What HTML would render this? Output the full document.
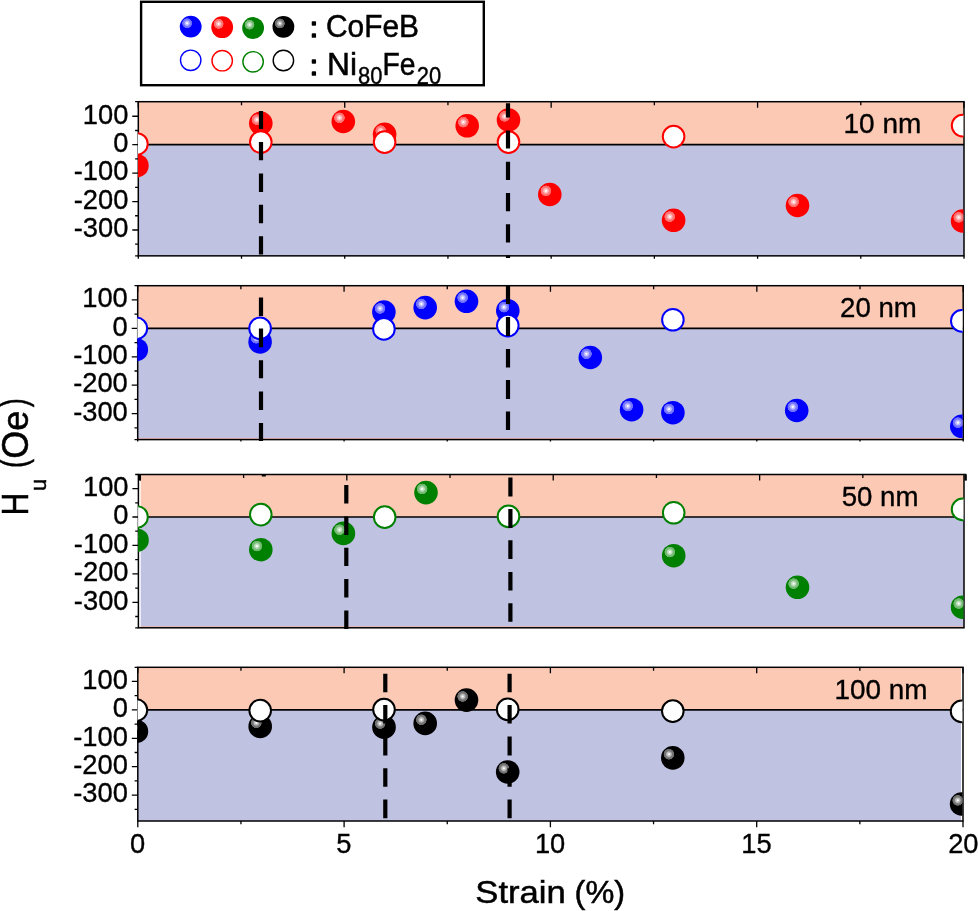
<!DOCTYPE html>
<html lang="en"><head><meta charset="utf-8"><title>Hu vs Strain</title>
<style>html,body{margin:0;padding:0;background:#fff}svg{display:block}text{font-family:'Liberation Sans', 'DejaVu Sans', sans-serif;fill:#000}</style>
</head><body>
<svg width="978" height="911" viewBox="0 0 978 911">
<defs>
<radialGradient id="gr" cx="0.336" cy="0.345" r="0.5" fx="0.336" fy="0.345" gradientUnits="objectBoundingBox">
<stop offset="0.00" stop-color="#FFFFFF"/>
<stop offset="0.05" stop-color="#FFFFFF"/>
<stop offset="0.11" stop-color="#FFC7C7"/>
<stop offset="0.21" stop-color="#FFB2B2"/>
<stop offset="0.25" stop-color="#FF8C8C"/>
<stop offset="0.30" stop-color="#FF7878"/>
<stop offset="0.43" stop-color="#FF6B6B"/>
<stop offset="0.47" stop-color="#FF0000"/>
<stop offset="1.00" stop-color="#FF0000"/>
</radialGradient>
<radialGradient id="gb" cx="0.336" cy="0.345" r="0.5" fx="0.336" fy="0.345" gradientUnits="objectBoundingBox">
<stop offset="0.00" stop-color="#FFFFFF"/>
<stop offset="0.05" stop-color="#FFFFFF"/>
<stop offset="0.11" stop-color="#C7C7FF"/>
<stop offset="0.21" stop-color="#B2B2FF"/>
<stop offset="0.25" stop-color="#8C8CFF"/>
<stop offset="0.30" stop-color="#7878FF"/>
<stop offset="0.43" stop-color="#6B6BFF"/>
<stop offset="0.47" stop-color="#0000FF"/>
<stop offset="1.00" stop-color="#0000FF"/>
</radialGradient>
<radialGradient id="gg" cx="0.336" cy="0.345" r="0.5" fx="0.336" fy="0.345" gradientUnits="objectBoundingBox">
<stop offset="0.00" stop-color="#FFFFFF"/>
<stop offset="0.05" stop-color="#FFFFFF"/>
<stop offset="0.11" stop-color="#C7E3C7"/>
<stop offset="0.21" stop-color="#B2D9B2"/>
<stop offset="0.25" stop-color="#8CC68C"/>
<stop offset="0.30" stop-color="#78BC78"/>
<stop offset="0.43" stop-color="#6BB56B"/>
<stop offset="0.47" stop-color="#008000"/>
<stop offset="1.00" stop-color="#008000"/>
</radialGradient>
<radialGradient id="gk" cx="0.336" cy="0.345" r="0.5" fx="0.336" fy="0.345" gradientUnits="objectBoundingBox">
<stop offset="0.00" stop-color="#FFFFFF"/>
<stop offset="0.05" stop-color="#FFFFFF"/>
<stop offset="0.11" stop-color="#C7C7C7"/>
<stop offset="0.21" stop-color="#B2B2B2"/>
<stop offset="0.25" stop-color="#8C8C8C"/>
<stop offset="0.30" stop-color="#787878"/>
<stop offset="0.43" stop-color="#6B6B6B"/>
<stop offset="0.47" stop-color="#000000"/>
<stop offset="1.00" stop-color="#000000"/>
</radialGradient>
<clipPath id="c0"><rect x="138.0" y="81.7" width="825.4" height="194.1"/></clipPath>
<clipPath id="c1"><rect x="137.4" y="265.7" width="825.2" height="193.9"/></clipPath>
<clipPath id="c2"><rect x="138.1" y="454.5" width="825.4" height="193.3"/></clipPath>
<clipPath id="c3"><rect x="137.5" y="647.3" width="824.9" height="193.7"/></clipPath>
</defs>
<rect width="978" height="911" fill="#fff"/>
<g>
<rect x="138.3" y="101.70" width="825.7" height="43.00" fill="#FBC9B4"/>
<rect x="138.3" y="144.70" width="825.7" height="111.15" fill="#C0C2E2"/>
<line x1="138.3" y1="144.70" x2="964.0" y2="144.70" stroke="#000" stroke-width="1.7"/>
<rect x="138.3" y="101.70" width="825.7" height="154.15" fill="none" stroke="#000" stroke-width="1.5"/>
<path d="M138.3 116.27H132.3M138.3 144.70H132.3M138.3 173.13H132.3M138.3 201.56H132.3M138.3 229.99H132.3M138.3 101.70H135.1M138.3 130.48H135.1M138.3 158.91H135.1M138.3 187.34H135.1M138.3 215.77H135.1M138.3 244.20H135.1M138.3 255.85H135.1M138.30 101.7V107.7M138.30 255.8V258.8M241.51 101.7V105.2M241.51 255.8V258.8M344.73 101.7V107.7M344.73 255.8V258.8M447.94 101.7V105.2M447.94 255.8V258.8M551.15 101.7V107.7M551.15 255.8V258.8M654.36 101.7V105.2M654.36 255.8V258.8M757.58 101.7V107.7M757.58 255.8V258.8M860.79 101.7V105.2M860.79 255.8V258.8M964.00 101.7V107.7M964.00 255.8V258.8" stroke="#000" stroke-width="1.3" fill="none"/>
<text x="128.4" y="123.5" font-size="27.3" text-anchor="end" stroke="#000" stroke-width="0.35">100</text>
<text x="128.4" y="151.9" font-size="27.3" text-anchor="end" stroke="#000" stroke-width="0.35">0</text>
<text x="128.4" y="180.3" font-size="27.3" text-anchor="end" stroke="#000" stroke-width="0.35">-100</text>
<text x="128.4" y="208.8" font-size="27.3" text-anchor="end" stroke="#000" stroke-width="0.35">-200</text>
<text x="128.4" y="237.2" font-size="27.3" text-anchor="end" stroke="#000" stroke-width="0.35">-300</text>
<g clip-path="url(#c0)">
<circle cx="136.9" cy="165.7" r="11.8" fill="url(#gr)"/>
<circle cx="260.8" cy="123.3" r="11.8" fill="url(#gr)"/>
<circle cx="343.3" cy="121.5" r="11.8" fill="url(#gr)"/>
<circle cx="384.6" cy="134.3" r="11.8" fill="url(#gr)"/>
<circle cx="467.2" cy="125.8" r="11.8" fill="url(#gr)"/>
<circle cx="508.5" cy="120.0" r="11.8" fill="url(#gr)"/>
<circle cx="549.8" cy="194.5" r="11.8" fill="url(#gr)"/>
<circle cx="673.6" cy="220.3" r="11.8" fill="url(#gr)"/>
<circle cx="797.5" cy="205.5" r="11.8" fill="url(#gr)"/>
<circle cx="962.6" cy="221.0" r="11.8" fill="url(#gr)"/>
<circle cx="136.9" cy="143.9" r="10.8" fill="#fff" stroke="#FF0000" stroke-width="2"/>
<circle cx="260.8" cy="142.1" r="10.8" fill="#fff" stroke="#FF0000" stroke-width="2"/>
<circle cx="384.6" cy="142.1" r="10.8" fill="#fff" stroke="#FF0000" stroke-width="2"/>
<circle cx="508.5" cy="142.1" r="10.8" fill="#fff" stroke="#FF0000" stroke-width="2"/>
<circle cx="673.6" cy="136.6" r="10.8" fill="#fff" stroke="#FF0000" stroke-width="2"/>
<circle cx="962.6" cy="125.6" r="10.8" fill="#fff" stroke="#FF0000" stroke-width="2"/>
</g>
<path d="M261.0 110.9V129.1M261.0 142.0V160.3M261.0 173.4V191.9M261.0 204.7V223.3M261.0 236.2V254.5M508.0 103.3V117.4M508.0 130.4V148.5M508.0 161.7V179.9M508.0 193.0V211.2M508.0 224.3V242.6M508.0 255.6V258.0" stroke="#000" stroke-width="4.2" fill="none"/>
<text x="843.5" y="132.5" font-size="27.3" textLength="77.8" lengthAdjust="spacingAndGlyphs" stroke="#000" stroke-width="0.35">10 nm</text>
</g>
<g>
<rect x="137.7" y="285.70" width="825.5" height="42.65" fill="#FBC9B4"/>
<rect x="137.7" y="328.35" width="825.5" height="111.25" fill="#C0C2E2"/>
<rect x="137.7" y="437.90" width="825.5" height="1" fill="#E8B4B0"/>
<line x1="137.7" y1="328.35" x2="963.2" y2="328.35" stroke="#000" stroke-width="1.7"/>
<rect x="137.7" y="285.70" width="825.5" height="153.90" fill="none" stroke="#000" stroke-width="1.5"/>
<path d="M137.7 299.92H131.7M137.7 328.35H131.7M137.7 356.78H131.7M137.7 385.21H131.7M137.7 413.64H131.7M137.7 285.70H134.5M137.7 314.14H134.5M137.7 342.56H134.5M137.7 371.00H134.5M137.7 399.43H134.5M137.7 427.86H134.5M137.7 439.60H134.5M137.70 285.7V291.7M137.70 439.6V441.5M240.89 285.7V289.2M240.89 439.6V441.5M344.07 285.7V291.7M344.07 439.6V441.5M447.26 285.7V289.2M447.26 439.6V441.5M550.45 285.7V291.7M550.45 439.6V441.5M653.64 285.7V289.2M653.64 439.6V441.5M756.83 285.7V291.7M756.83 439.6V441.5M860.01 285.7V289.2M860.01 439.6V441.5M963.20 285.7V291.7M963.20 439.6V441.5" stroke="#000" stroke-width="1.3" fill="none"/>
<text x="127.8" y="307.1" font-size="27.3" text-anchor="end" stroke="#000" stroke-width="0.35">100</text>
<text x="127.8" y="335.6" font-size="27.3" text-anchor="end" stroke="#000" stroke-width="0.35">0</text>
<text x="127.8" y="364.0" font-size="27.3" text-anchor="end" stroke="#000" stroke-width="0.35">-100</text>
<text x="127.8" y="392.4" font-size="27.3" text-anchor="end" stroke="#000" stroke-width="0.35">-200</text>
<text x="127.8" y="420.8" font-size="27.3" text-anchor="end" stroke="#000" stroke-width="0.35">-300</text>
<g clip-path="url(#c1)">
<circle cx="136.3" cy="349.7" r="11.8" fill="url(#gb)"/>
<circle cx="260.1" cy="341.9" r="11.8" fill="url(#gb)"/>
<circle cx="383.9" cy="312.1" r="11.8" fill="url(#gb)"/>
<circle cx="425.2" cy="307.6" r="11.8" fill="url(#gb)"/>
<circle cx="466.5" cy="301.3" r="11.8" fill="url(#gb)"/>
<circle cx="507.8" cy="310.8" r="11.8" fill="url(#gb)"/>
<circle cx="590.3" cy="357.5" r="11.8" fill="url(#gb)"/>
<circle cx="631.6" cy="409.7" r="11.8" fill="url(#gb)"/>
<circle cx="672.9" cy="412.7" r="11.8" fill="url(#gb)"/>
<circle cx="796.7" cy="410.5" r="11.8" fill="url(#gb)"/>
<circle cx="961.8" cy="426.3" r="11.8" fill="url(#gb)"/>
<circle cx="136.3" cy="328.4" r="10.8" fill="#fff" stroke="#0000FF" stroke-width="2"/>
<circle cx="260.1" cy="328.4" r="10.8" fill="#fff" stroke="#0000FF" stroke-width="2"/>
<circle cx="383.9" cy="328.9" r="10.8" fill="#fff" stroke="#0000FF" stroke-width="2"/>
<circle cx="507.8" cy="325.6" r="10.8" fill="#fff" stroke="#0000FF" stroke-width="2"/>
<circle cx="672.9" cy="319.8" r="10.8" fill="#fff" stroke="#0000FF" stroke-width="2"/>
<circle cx="961.8" cy="320.9" r="10.8" fill="#fff" stroke="#0000FF" stroke-width="2"/>
</g>
<path d="M261.0 297.6V315.9M261.0 328.4V347.3M261.0 360.2V378.2M261.0 391.5V409.9M261.0 422.9V440.9M508.0 285.8V303.9M508.0 317.0V335.9M508.0 349.0V367.4M508.0 380.0V398.9M508.0 411.6V429.9" stroke="#000" stroke-width="4.2" fill="none"/>
<text x="840.1" y="316.6" font-size="27.3" textLength="76.8" lengthAdjust="spacingAndGlyphs" stroke="#000" stroke-width="0.35">20 nm</text>
</g>
<g>
<rect x="140.7" y="474.50" width="823.3" height="42.50" fill="#FBC9B4"/>
<rect x="140.7" y="517.00" width="823.3" height="110.80" fill="#C0C2E2"/>
<rect x="140.7" y="626.10" width="823.3" height="1" fill="#E8B4B0"/>
<line x1="140.7" y1="517.00" x2="964.0" y2="517.00" stroke="#000" stroke-width="1.7"/>
<rect x="138.4" y="474.50" width="825.6" height="153.30" fill="none" stroke="#000" stroke-width="1.5"/>
<path d="M138.4 488.57H132.4M138.4 517.00H132.4M138.4 545.43H132.4M138.4 573.86H132.4M138.4 602.29H132.4M138.4 474.50H135.2M138.4 502.79H135.2M138.4 531.22H135.2M138.4 559.64H135.2M138.4 588.08H135.2M138.4 616.50H135.2M138.4 627.80H135.2M140.40 474.5V480.5M243.61 474.5V478.0M346.81 474.5V480.5M450.02 474.5V478.0M553.23 474.5V480.5M656.43 474.5V478.0M759.64 474.5V480.5M862.84 474.5V478.0M966.05 474.5V480.5" stroke="#000" stroke-width="1.3" fill="none"/>
<rect x="261.8" y="474.9" width="4" height="1.6" fill="#000"/>
<path d="M139.8 474.5V480.5M965.4 473.8V480.5" stroke="#000" stroke-width="2" fill="none"/>
<text x="128.5" y="495.8" font-size="27.3" text-anchor="end" stroke="#000" stroke-width="0.35">100</text>
<text x="128.5" y="524.2" font-size="27.3" text-anchor="end" stroke="#000" stroke-width="0.35">0</text>
<text x="128.5" y="552.6" font-size="27.3" text-anchor="end" stroke="#000" stroke-width="0.35">-100</text>
<text x="128.5" y="581.1" font-size="27.3" text-anchor="end" stroke="#000" stroke-width="0.35">-200</text>
<text x="128.5" y="609.5" font-size="27.3" text-anchor="end" stroke="#000" stroke-width="0.35">-300</text>
<g clip-path="url(#c2)">
<circle cx="137.0" cy="540.2" r="11.8" fill="url(#gg)"/>
<circle cx="260.8" cy="549.7" r="11.8" fill="url(#gg)"/>
<circle cx="343.4" cy="533.4" r="11.8" fill="url(#gg)"/>
<circle cx="426.0" cy="492.6" r="11.8" fill="url(#gg)"/>
<circle cx="673.7" cy="555.7" r="11.8" fill="url(#gg)"/>
<circle cx="797.5" cy="587.3" r="11.8" fill="url(#gg)"/>
<circle cx="962.6" cy="607.2" r="11.8" fill="url(#gg)"/>
<circle cx="137.0" cy="516.9" r="10.8" fill="#fff" stroke="#008000" stroke-width="2"/>
<circle cx="260.8" cy="514.6" r="10.8" fill="#fff" stroke="#008000" stroke-width="2"/>
<circle cx="384.7" cy="517.1" r="10.8" fill="#fff" stroke="#008000" stroke-width="2"/>
<circle cx="508.5" cy="516.4" r="10.8" fill="#fff" stroke="#008000" stroke-width="2"/>
<circle cx="673.7" cy="512.8" r="10.8" fill="#fff" stroke="#008000" stroke-width="2"/>
<circle cx="962.6" cy="509.4" r="10.8" fill="#fff" stroke="#008000" stroke-width="2"/>
</g>
<path d="M346.3 485.0V503.5M346.3 516.4V534.9M346.3 547.7V566.1M346.3 579.0V597.5M346.3 610.4V628.9M510.4 477.5V496.5M510.4 508.9V528.1M510.4 540.2V559.1M510.4 572.0V590.5M510.4 603.3V621.8" stroke="#000" stroke-width="4.2" fill="none"/>
<text x="841.7" y="506.4" font-size="27.3" textLength="76.8" lengthAdjust="spacingAndGlyphs" stroke="#000" stroke-width="0.35">50 nm</text>
</g>
<g>
<rect x="137.8" y="667.30" width="823.2" height="42.55" fill="#FBC9B4"/>
<rect x="137.8" y="709.85" width="823.2" height="111.15" fill="#C0C2E2"/>
<line x1="137.8" y1="709.85" x2="963.0" y2="709.85" stroke="#000" stroke-width="1.7"/>
<rect x="137.8" y="667.30" width="825.2" height="153.70" fill="none" stroke="#000" stroke-width="1.5"/>
<path d="M137.8 681.42H131.8M137.8 709.85H131.8M137.8 738.28H131.8M137.8 766.71H131.8M137.8 795.14H131.8M137.8 667.30H134.6M137.8 695.63H134.6M137.8 724.07H134.6M137.8 752.50H134.6M137.8 780.93H134.6M137.8 809.36H134.6M137.80 667.3V673.3M137.80 821.0V827.2M240.95 667.3V670.8M240.95 821.0V824.2M344.10 667.3V673.3M344.10 821.0V827.2M447.25 667.3V670.8M447.25 821.0V824.2M550.40 667.3V673.3M550.40 821.0V827.2M653.55 667.3V670.8M653.55 821.0V824.2M756.70 667.3V673.3M756.70 821.0V827.2M859.85 667.3V670.8M859.85 821.0V824.2M963.00 667.3V673.3M963.00 821.0V827.2" stroke="#000" stroke-width="1.3" fill="none"/>
<text x="127.9" y="688.6" font-size="27.3" text-anchor="end" stroke="#000" stroke-width="0.35">100</text>
<text x="127.9" y="717.1" font-size="27.3" text-anchor="end" stroke="#000" stroke-width="0.35">0</text>
<text x="127.9" y="745.5" font-size="27.3" text-anchor="end" stroke="#000" stroke-width="0.35">-100</text>
<text x="127.9" y="773.9" font-size="27.3" text-anchor="end" stroke="#000" stroke-width="0.35">-200</text>
<text x="127.9" y="802.3" font-size="27.3" text-anchor="end" stroke="#000" stroke-width="0.35">-300</text>
<g clip-path="url(#c3)">
<circle cx="136.4" cy="731.4" r="11.8" fill="url(#gk)"/>
<circle cx="260.2" cy="726.4" r="11.8" fill="url(#gk)"/>
<circle cx="384.0" cy="727.2" r="11.8" fill="url(#gk)"/>
<circle cx="425.2" cy="723.4" r="11.8" fill="url(#gk)"/>
<circle cx="466.5" cy="700.1" r="11.8" fill="url(#gk)"/>
<circle cx="507.7" cy="772.0" r="11.8" fill="url(#gk)"/>
<circle cx="672.8" cy="757.9" r="11.8" fill="url(#gk)"/>
<circle cx="961.6" cy="804.0" r="11.8" fill="url(#gk)"/>
<circle cx="136.4" cy="710.1" r="10.8" fill="#fff" stroke="#000000" stroke-width="2"/>
<circle cx="260.2" cy="710.6" r="10.8" fill="#fff" stroke="#000000" stroke-width="2"/>
<circle cx="384.0" cy="709.6" r="10.8" fill="#fff" stroke="#000000" stroke-width="2"/>
<circle cx="507.7" cy="709.4" r="10.8" fill="#fff" stroke="#000000" stroke-width="2"/>
<circle cx="672.8" cy="711.1" r="10.8" fill="#fff" stroke="#000000" stroke-width="2"/>
<circle cx="961.6" cy="711.4" r="10.8" fill="#fff" stroke="#000000" stroke-width="2"/>
</g>
<path d="M385.3 673.8V692.2M385.3 705.0V723.6M385.3 736.5V755.4M385.3 768.3V786.7M385.3 799.6V818.3M509.6 673.8V692.2M509.6 705.0V723.6M509.6 736.5V755.4M509.6 768.3V786.7M509.6 799.6V818.3" stroke="#000" stroke-width="4.2" fill="none"/>
<text x="834.5" y="699.0" font-size="27.3" textLength="93.0" lengthAdjust="spacingAndGlyphs" stroke="#000" stroke-width="0.35">100 nm</text>
</g>
<text x="137.5" y="853.3" font-size="27.3" text-anchor="middle" stroke="#000" stroke-width="0.35">0</text>
<text x="343.8" y="853.3" font-size="27.3" text-anchor="middle" stroke="#000" stroke-width="0.35">5</text>
<text x="550.1" y="853.3" font-size="27.3" text-anchor="middle" stroke="#000" stroke-width="0.35">10</text>
<text x="756.4" y="853.3" font-size="27.3" text-anchor="middle" stroke="#000" stroke-width="0.35">15</text>
<text x="978.5" y="853.3" font-size="27.3" text-anchor="end" stroke="#000" stroke-width="0.35">20</text>
<text x="475.3" y="903" font-size="32" textLength="90.5" lengthAdjust="spacingAndGlyphs" stroke="#000" stroke-width="0.5">Strain</text>
<text x="574.6" y="903" font-size="32" textLength="50.5" lengthAdjust="spacingAndGlyphs" stroke="#000" stroke-width="0.5">(%)</text>
<g transform="translate(28.1 513.1) rotate(-90)" stroke="#000" stroke-width="0.5">
<text x="-2.5" y="0" font-size="36.3" textLength="22.9" lengthAdjust="spacingAndGlyphs">H</text>
<text x="22.1" y="17.8" font-size="21.8">u</text>
<text transform="translate(45.2 -1.7) scale(0.75 1)" font-size="36">(</text>
<text x="54.4" y="0" font-size="36">Oe</text>
<text transform="translate(105.8 -1.7) scale(0.75 1)" font-size="36">)</text>
</g>
<rect x="141.1" y="1.8" width="342.7" height="83.4" fill="#fff" stroke="#000" stroke-width="2.4"/>
<circle cx="190.7" cy="26.6" r="10.9" fill="url(#gb)"/>
<circle cx="190.7" cy="60.3" r="10.2" fill="#fff" stroke="#0000FF" stroke-width="1.4"/>
<circle cx="222.2" cy="27.2" r="10.9" fill="url(#gr)"/>
<circle cx="222.2" cy="60.7" r="10.2" fill="#fff" stroke="#FF0000" stroke-width="1.4"/>
<circle cx="253.1" cy="28.0" r="10.9" fill="url(#gg)"/>
<circle cx="253.1" cy="61.8" r="10.2" fill="#fff" stroke="#008000" stroke-width="1.4"/>
<circle cx="283.4" cy="26.8" r="10.9" fill="url(#gk)"/>
<circle cx="283.4" cy="60.5" r="10.2" fill="#fff" stroke="#000000" stroke-width="1.4"/>
<g stroke="#000" stroke-width="0.5">
<text x="309.9" y="36.5" font-size="28" stroke-width="1.7" stroke-linejoin="round">:</text>
<text x="326" y="36.8" font-size="31" textLength="93" lengthAdjust="spacingAndGlyphs">CoFeB</text>
<text x="309.9" y="74.6" font-size="28" stroke-width="1.7" stroke-linejoin="round">:</text>
<text x="327" y="75.3" font-size="31" textLength="30" lengthAdjust="spacingAndGlyphs">Ni</text>
<text x="358.1" y="83.8" font-size="23" textLength="24.4" lengthAdjust="spacingAndGlyphs" stroke-width="0.4">80</text>
<text x="382.5" y="75.3" font-size="31" textLength="33" lengthAdjust="spacingAndGlyphs">Fe</text>
<text x="416.7" y="83.8" font-size="23" textLength="24.4" lengthAdjust="spacingAndGlyphs" stroke-width="0.4">20</text>
</g>
</svg>
</body></html>
